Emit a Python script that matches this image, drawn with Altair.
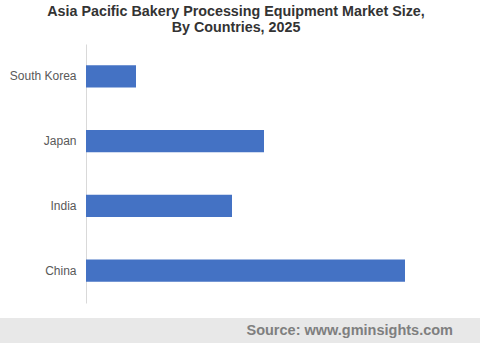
import altair as alt
import pandas as pd

countries = ["South Korea", "Japan", "India", "China"]
values = [50, 178, 146, 319]

df = pd.DataFrame({"country": countries, "value": values})

W, H = 394, 259

bars = alt.Chart(df).mark_bar(color="#4472c4").encode(
    y=alt.Y("country:N", sort=countries,
            scale=alt.Scale(paddingInner=0.66, paddingOuter=0.33),
            axis=alt.Axis(title=None, ticks=False, labelPadding=10,
                          labelFont="Liberation Sans", labelFontSize=12,
                          labelColor="#595959", domainColor="#d9d9d9",
                          domainWidth=1, grid=False)),
    x=alt.X("value:Q", scale=alt.Scale(domain=[0, W]), axis=None),
)

footer_df = pd.DataFrame({"t": ["Source: www.gminsights.com"]})
footer = alt.Chart(footer_df).mark_rect(color="#e8e8e8").encode(
    x=alt.value(-86), x2=alt.value(W), y=alt.value(274), y2=alt.value(299)
)
footer_text = alt.Chart(footer_df).mark_text(
    align="right", baseline="middle", font="Liberation Sans",
    fontSize=14.5, fontWeight="bold", color="#7f7f7f"
).encode(text="t:N", x=alt.value(367), y=alt.value(286.5))

chart = alt.layer(footer, bars, footer_text).properties(
    width=W, height=H,
    title=alt.TitleParams(
        ["Asia Pacific Bakery Processing Equipment Market Size,", "By Countries, 2025"],
        font="Liberation Sans", fontSize=14.3, fontWeight="bold", color="#333333",
        anchor="middle", offset=9, lineHeight=16, dx=(480 / 2 - (86 + W / 2)) - 4,
    ),
    autosize=alt.AutoSizeParams(type="none"),
    padding={"left": 86, "top": 44, "right": 0, "bottom": 40},
).configure(background="white").configure_view(stroke=None, strokeWidth=0)

chart.save("out.html", embed_options={"renderer": "svg", "actions": False})
